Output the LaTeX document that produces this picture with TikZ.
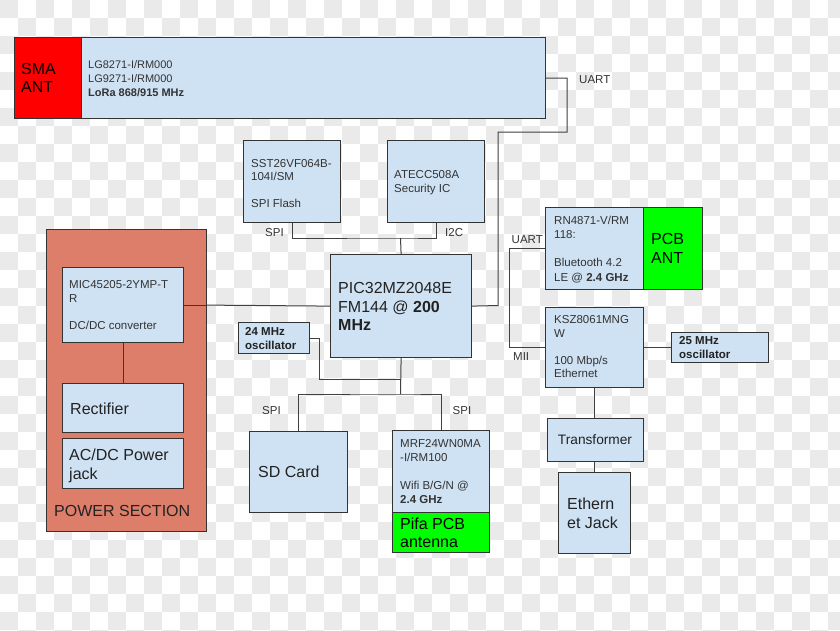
\documentclass[tikz,border=0pt]{standalone}
\usepackage{fontspec}
\setmainfont{Liberation Sans}
\usetikzlibrary{calc}
\definecolor{boxblue}{HTML}{CFE2F3}
\definecolor{salmon}{HTML}{DD7E6B}
\definecolor{antred}{HTML}{FF0000}
\definecolor{antgreen}{HTML}{00FF00}
\definecolor{bordc}{HTML}{333333}
\definecolor{linec}{HTML}{404040}
\definecolor{pwrline}{HTML}{5E2A22}
\definecolor{textc}{HTML}{333333}
\definecolor{bigtextc}{HTML}{222222}
\definecolor{checkc}{HTML}{EAEAEA}
\tikzset{
  blk/.style={draw=bordc, line width=1.2pt, inner sep=0pt, anchor=north west, fill=boxblue},
  redblk/.style={blk, fill=antred},
  greenblk/.style={blk, fill=antgreen},
  powerblk/.style={blk, fill=salmon},
  wire/.style={draw=linec, line width=1pt},
  pwire/.style={draw=pwrline, line width=1pt},
  txt/.style={anchor=north west, inner sep=0pt, align=left, text=textc, font=\fontsize{11.5}{13.5}\selectfont},
  bigtxt/.style={anchor=north west, inner sep=0pt, align=left, text=bigtextc, font=\fontsize{16}{18.7}\selectfont},
  lbl/.style={anchor=west, inner sep=0pt, text=textc, font=\fontsize{11.5}{13.5}\selectfont},
}
\begin{document}
\begin{tikzpicture}[x=1pt,y=-1pt]
\useasboundingbox (0,0) rectangle (840,630);
% transparency checkerboard of the reference
\begin{scope}
\clip (0,0) rectangle (840,630);
\fill[white] (0,0) rectangle (840,630);
\foreach \i in {0,...,46}{
  \foreach \j in {0,...,35}{
    \pgfmathtruncatemacro\k{mod(\i+\j,2)}
    \ifnum\k=0 \fill[checkc] (\i*18,\j*18) rectangle ++(18,18);\fi
  }
}
\end{scope}

% ---------- LoRa ----------
\node[redblk, minimum width=67pt, minimum height=81pt] (sma) at (14,37) {};
\node[blk, minimum width=464pt, minimum height=81pt] (lora) at (81,37) {};
\node[bigtxt, text=black, font=\fontsize{16}{18.3}\selectfont] (smat) at (21,63) {SMA\\ANT};
\node[txt, font=\fontsize{11}{14}\selectfont] (lorat) at (88,59.9) {LG8271-I/RM000\\LG9271-I/RM000\\\textbf{LoRa 868/915 MHz}};

% ---------- Flash / ATECC ----------
\node[blk, minimum width=97pt, minimum height=82pt] (flash) at (243,140) {};
\node[txt] (flasht) at (251,159.2) {SST26VF064B-\\104I/SM\\[13.5pt]SPI Flash};
\node[blk, minimum width=97pt, minimum height=82pt] (atecc) at (387,140) {};
\node[txt] (ateccT) at (394,170.7) {ATECC508A\\Security IC};

% ---------- PIC ----------
\node[blk, minimum width=141pt, minimum height=103pt] (pic) at (330,254) {};
\node[bigtxt] (pict) at (338,282) {PIC32MZ2048E\\FM144 @ \textbf{200}\\\textbf{MHz}};

% ---------- 24 MHz ----------
\node[blk, minimum width=71pt, minimum height=31pt] (osca) at (238,322) {};
\node[txt, font=\fontsize{11.5}{13.5}\selectfont\bfseries, text=bigtextc] (oscat) at (245,327.4) {24 MHz\\oscillator};

% ---------- Power section ----------
\node[powerblk, minimum width=160pt, minimum height=302pt] (power) at (46,229) {};
\node[bigtxt] (powert) at (54,505.1) {POWER SECTION};
\node[blk, minimum width=121pt, minimum height=75pt] (mic) at (62,267) {};
\node[txt] (mict) at (69,280.7) {MIC45205-2YMP-T\\R\\[13.5pt]DC/DC converter};
\node[blk, minimum width=121pt, minimum height=49pt] (rect) at (62,383) {};
\node[bigtxt] (rectt) at (70,402.4) {Rectifier};
\node[blk, minimum width=121pt, minimum height=50pt] (acdc) at (62,438) {};
\node[bigtxt, font=\fontsize{16}{18.5}\selectfont] (acdct) at (69,449.1) {AC/DC Power\\jack};

% ---------- Bluetooth ----------
\node[blk, minimum width=98pt, minimum height=82pt] (bt) at (545,207) {};
\node[greenblk, minimum width=59pt, minimum height=82pt] (pcb) at (643,207) {};
\node[txt, font=\fontsize{11.5}{14.2}\selectfont] (btt) at (554,215.7) {RN4871-V/RM\\118:\\[14.2pt]Bluetooth 4.2\\LE @ \textbf{2.4 GHz}};
\node[bigtxt, text=black] (pcbt) at (651,233.4) {PCB\\ANT};

% ---------- Ethernet ----------
\node[blk, minimum width=98pt, minimum height=80pt] (ksz) at (545,307) {};
\node[txt] (kszt) at (554,315.7) {KSZ8061MNG\\W\\[13.5pt]100 Mbp/s\\Ethernet};
\node[blk, minimum width=97pt, minimum height=30pt] (oscb) at (671,332) {};
\node[txt, font=\fontsize{11.5}{14.3}\selectfont\bfseries, text=bigtextc] (oscbt) at (679,336.4) {25 MHz\\oscillator};
\node[blk, minimum width=96pt, minimum height=43pt] (trans) at (547,418) {};
\node[anchor=center, inner sep=0pt, text=bigtextc, font=\fontsize{13.7}{16}\selectfont] (transt) at (595,440) {Transformer};
\node[blk, minimum width=72pt, minimum height=81pt] (jack) at (558,472) {};
\node[bigtxt] (jackt) at (567,498.1) {Ethern\\et Jack};

% ---------- SD / WiFi ----------
\node[blk, minimum width=98pt, minimum height=81pt] (sd) at (249,431) {};
\node[bigtxt] (sdt) at (258,465.8) {SD Card};
\node[blk, minimum width=97pt, minimum height=82pt] (mrf) at (392,430) {};
\node[greenblk, minimum width=97pt, minimum height=40pt] (pifa) at (392,512) {};
\node[txt, font=\fontsize{11.5}{14}\selectfont] (mrft) at (400,439) {MRF24WN0MA\\-I/RM100\\[14pt]Wifi B/G/N @\\\textbf{2.4 GHz}};
\node[bigtxt, text=black, font=\fontsize{16}{18.4}\selectfont] (pifat) at (400,517.4) {Pifa PCB\\antenna};

% ---------- connectors ----------
\coordinate (uartA) at (567,132);
\coordinate (uartB) at (498,305.5);
\draw[wire] (lora.east) -| (uartA) -| (uartB) -- (pic.east);
\coordinate (jr) at (509,305.5);
\draw[wire] (jr) |- (bt.west);
\draw[wire] (jr) |- (ksz.west);
\draw[wire] (ksz.east) -- (oscb.west);
\draw[wire] (ksz.south) -- (ksz.south |- trans.north);
\draw[wire] (trans.south -| jack.north) -- (jack.north);

\coordinate (bus1) at (400.5,238);
\draw[wire] (flash.south) |- (bus1) -| (atecc.south);
\draw[wire] (bus1) -- (pic.north);

\draw[pwire] (mic.east) -- (power.east |- mic.east);
\draw[wire] (power.east |- mic.east) -- (pic.west);
\draw[pwire] (mic.south) -- (rect.north);

\coordinate (bus2) at (400.5,394);
\coordinate (j24) at (400.5,379);
\coordinate (k24) at (319,379);
\draw[wire] (pic.south) -- (bus2);
\draw[wire] (osca.east) -| (k24) -- (j24);
\draw[wire] (sd.north) |- (bus2) -| (mrf.north);

% ---------- bus labels ----------
\node[lbl] (uart1) at (579,80) {UART};
\node[lbl] (spi1) at (265,233) {SPI};
\node[lbl] (i2c) at (445,233) {I2C};
\node[lbl] (uart2) at (511.5,240) {UART};
\node[lbl] (mii) at (513,356.5) {MII};
\node[lbl] (spi2) at (262,411) {SPI};
\node[lbl] (spi3) at (452.5,411) {SPI};
\end{tikzpicture}
\end{document}
